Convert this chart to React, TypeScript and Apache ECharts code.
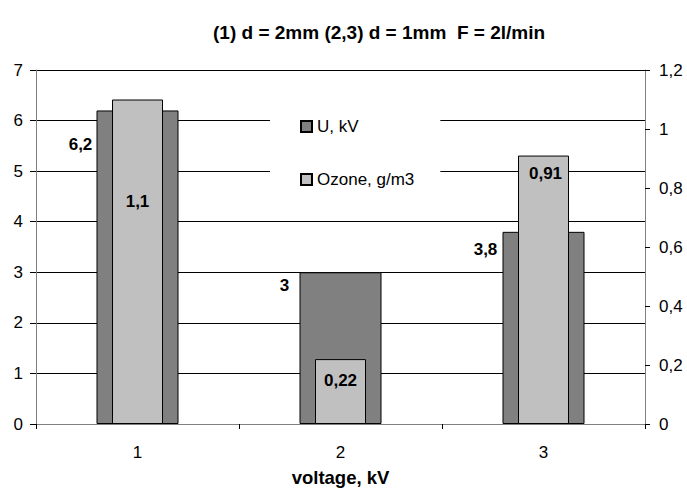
import React, { useEffect, useRef } from "react";
import * as echarts from "echarts";

const categories = ["1", "2", "3"];
const uValues = [6.2, 3, 3.8];
const ozoneValues = [1.1, 0.22, 0.91];
const leftTicks = [0, 1, 2, 3, 4, 5, 6, 7];
const rightTicks = [0, 0.2, 0.4, 0.6, 0.8, 1, 1.2];
const titleText = "(1) d = 2mm (2,3) d = 1mm  F = 2l/min";

// label offsets (styling only)
const uLabelOffsets = [[-57, 21], [-56, 0], [-58, 4]];
const ozLabelOffsets = [[0, 88], [0, 8], [2, 4]];

const fmt = (v: number) => String(Math.round(v * 100) / 100).replace(".", ",");
const FONT = "Liberation Sans, Arial, sans-serif";

export default function App() {
  const ref = useRef<HTMLDivElement>(null);
  useEffect(() => {
    if (!ref.current) return;
    const chart = echarts.init(ref.current, null, { renderer: "svg" });
    chart.setOption({
      animation: false,
      backgroundColor: "#fff",
      textStyle: { fontFamily: FONT },
      graphic: [
        {
          type: "text",
          left: 213,
          top: 23,
          style: { text: titleText, font: `bold 19px ${FONT}`, fill: "#000" },
        },
      ],
      legend: {
        orient: "vertical",
        left: 270,
        top: 100,
        backgroundColor: "#fff",
        padding: [18, 26, 14, 30],
        itemGap: 36,
        itemWidth: 11,
        itemHeight: 11,
        icon: "rect",
        textStyle: { fontSize: 17, color: "#000", fontFamily: FONT },
        data: ["U, kV", "Ozone, g/m3"],
      },
      grid: { left: 36, right: 42, top: 70, bottom: 64, outerBoundsMode: "none" },
      xAxis: [
        {
          type: "category",
          data: categories,
          name: "voltage, kV",
          nameLocation: "middle",
          nameGap: 44,
          nameTextStyle: { fontSize: 18.5, fontWeight: "bold", color: "#000", fontFamily: FONT },
          axisLine: { lineStyle: { color: "#808080" } },
          axisTick: { show: true, length: 5, lineStyle: { color: "#000" } },
          axisLabel: { fontSize: 17, color: "#000", margin: 20, fontFamily: FONT },
        },
        { type: "category", data: categories, show: false },
      ],
      yAxis: [
        {
          type: "value",
          min: 0,
          max: 7,
          interval: 1,
          axisLine: { show: true, lineStyle: { color: "#808080" } },
          axisTick: { show: true, length: 6, lineStyle: { color: "#000" } },
          axisLabel: {
            fontSize: 17,
            color: "#000",
            margin: 13,
            fontFamily: FONT,
            formatter: (v: number) => (leftTicks.includes(v) ? fmt(v) : ""),
          },
          splitLine: { show: true, lineStyle: { color: "#000", width: 1 } },
        },
        {
          type: "value",
          min: 0,
          max: 1.2,
          interval: 0.2,
          position: "right",
          axisLine: { show: true, lineStyle: { color: "#808080" } },
          axisTick: { show: true, length: 5, lineStyle: { color: "#000" } },
          axisLabel: {
            fontSize: 17,
            color: "#000",
            margin: 14,
            fontFamily: FONT,
            formatter: (v: number) =>
              rightTicks.some((t) => Math.abs(t - v) < 1e-6) ? fmt(v) : "",
          },
          splitLine: { show: false },
        },
      ],
      series: [
        {
          name: "U, kV",
          type: "bar",
          xAxisIndex: 0,
          yAxisIndex: 0,
          barWidth: 82,
          itemStyle: { color: "#808080", borderColor: "#000", borderWidth: 1 },
          data: uValues.map((v, i) => ({
            value: v,
            label: {
              show: true,
              position: "insideTop",
              offset: uLabelOffsets[i],
              formatter: () => fmt(v),
              fontSize: 17,
              fontWeight: "bold",
              color: "#000",
              fontFamily: FONT,
            },
          })),
        },
        {
          name: "Ozone, g/m3",
          type: "bar",
          xAxisIndex: 1,
          yAxisIndex: 1,
          barWidth: 51,
          itemStyle: { color: "#c0c0c0", borderColor: "#000", borderWidth: 1 },
          data: ozoneValues.map((v, i) => ({
            value: v,
            label: {
              show: true,
              position: "insideTop",
              offset: ozLabelOffsets[i],
              formatter: () => fmt(v),
              fontSize: 17,
              fontWeight: "bold",
              color: "#000",
              fontFamily: FONT,
            },
          })),
        },
      ],
    });
    return () => chart.dispose();
  }, []);
  return <div ref={ref} style={{ width: 687, height: 488, position: "absolute", left: 0, top: 0 }} />;
}
